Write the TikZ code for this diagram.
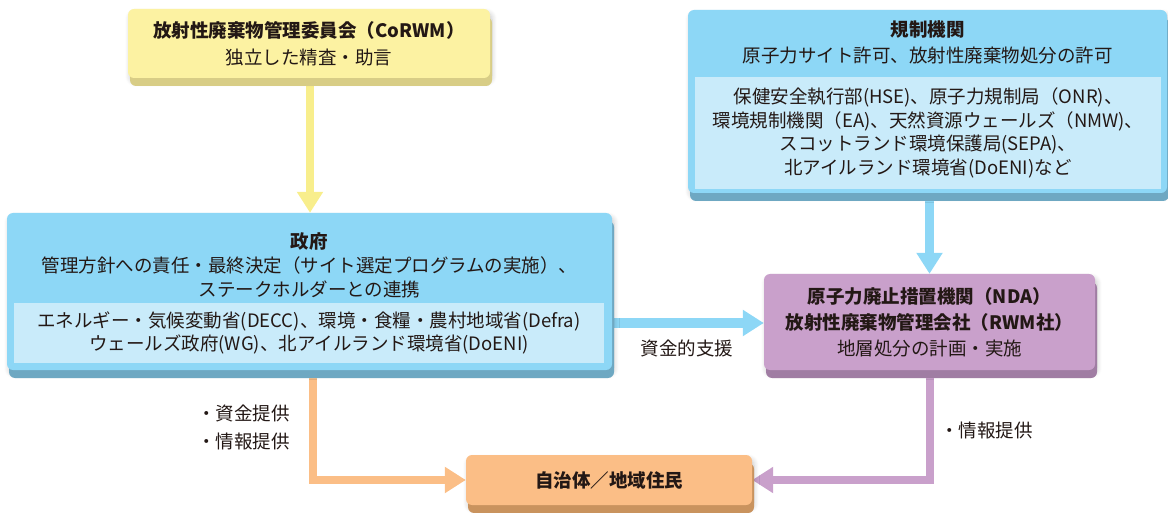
\documentclass[tikz,border=0pt]{standalone}
\usepackage{fontspec}
\setmainfont{Noto Sans CJK JP}
\usetikzlibrary{arrows.meta,shadows,shadows.blur,calc}
\definecolor{txt}{HTML}{231815}
\definecolor{yelfill}{HTML}{FCF2A2}
\definecolor{yelstrip}{HTML}{D8CD86}
\definecolor{yelarrow}{HTML}{F8EE8C}
\definecolor{bluefill}{HTML}{8DD7F6}
\definecolor{bluestrip}{HTML}{6EA8C2}
\definecolor{bluepanel}{HTML}{C9EBFA}
\definecolor{purfill}{HTML}{C9A0CB}
\definecolor{purstrip}{HTML}{A07DA3}
\definecolor{orfill}{HTML}{FBBE86}
\definecolor{orstrip}{HTML}{C9935E}
\newcommand{\dfont}{\fontsize{18.5}{25}\selectfont}
\pgfdeclarelayer{bg}
\pgfsetlayers{bg,main}
\begin{document}
\begin{tikzpicture}[x=1pt,y=-1pt,
  boxbase/.style={rounded corners=6pt, inner sep=0pt, text=txt, align=center, font=\dfont,
    blur shadow={shadow blur steps=6, shadow xshift=2pt, shadow yshift=-4pt, shadow opacity=22, shadow blur radius=5pt}},
  stripped/.style={general shadow={fill=#1, shadow yshift=-8pt}},
  panelbox/.style={fill=bluepanel, inner sep=0pt, text=txt, align=center, font=\dfont},
  lbl/.style={inner sep=0pt, text=txt, font=\dfont},
  fatarrow/.style={draw=#1, line width=9pt, -{Triangle[width=25pt,length=21pt]}},
]
\useasboundingbox (0,0) rectangle (1168,513);

% boxes
\node[boxbase, stripped=yelstrip, fill=yelfill, minimum width=362pt, minimum height=69pt,
  font=\fontsize{18.5}{27}\selectfont] (corwm) at (309,43.5)
  {\bfseries 放射性廃棄物管理委員会（CoRWM）\\ 独立した精査・助言};

\node[boxbase, stripped=bluestrip, fill=bluefill, minimum width=479pt, minimum height=183pt] (regs) at (927.5,101.5) {};
\node[lbl, align=center, font=\fontsize{18.5}{26}\selectfont] (regstitle) at (927.5,42)
  {\bfseries 規制機関\\ 原子力サイト許可、放射性廃棄物処分の許可};
\node[panelbox, minimum width=466pt, minimum height=112pt, font=\fontsize{18.5}{23.7}\selectfont] (regspanel) at (928,133)
  {\raisebox{0pt}{}保健安全執行部(HSE)、原子力規制局（ONR)、\\
   環境規制機関（EA)、天然資源ウェールズ（NMW)、\\
   スコットランド環境保護局(SEPA)、\\
   北アイルランド環境省(DoENI)など};

\node[boxbase, stripped=bluestrip, fill=bluefill, minimum width=605pt, minimum height=157pt] (gov) at (309.5,291.5) {};
\node[lbl, align=center, font=\fontsize{18.5}{24}\selectfont] (govtitle) at (309.5,265)
  {\bfseries 政府\\ 管理方針への責任・最終決定（サイト選定プログラムの実施）、\\ ステークホルダーとの連携};
\node[panelbox, minimum width=590pt, minimum height=60pt, font=\fontsize{18.5}{23}\selectfont] (govpanel) at (309,333)
  {エネルギー・気候変動省(DECC)、環境・食糧・農村地域省(Defra)\\
   ウェールズ政府(WG)、北アイルランド環境省(DoENI)};

\node[boxbase, stripped=purstrip, fill=purfill, minimum width=331pt, minimum height=96pt,
  font=\fontsize{18.5}{26}\selectfont] (nda) at (929.5,322)
  {\bfseries 原子力廃止措置機関（NDA）\\ \bfseries 放射性廃棄物管理会社（RWM社）\\ 地層処分の計画・実施};

\node[boxbase, stripped=orstrip, fill=orfill, minimum width=286pt, minimum height=50pt] (local) at (609,480)
  {\bfseries 自治体／地域住民};

% labels
\node[lbl] (lfund) at (687,348) {資金的支援};
\node[lbl, anchor=west, align=left, font=\fontsize{18.5}{28}\selectfont] (lgov) at (197,427) {・資金提供\\・情報提供};
\node[lbl, anchor=west] (lnda) at (940,430) {・情報提供};

% connectors
\begin{pgfonlayer}{bg}
\draw[fatarrow=yelarrow, line width=8pt] (corwm.south -| 310,0) -- (gov.north -| 310,0);
\draw[fatarrow=bluefill] (nda.north |- regs.south) -- (nda.north);
\draw[fatarrow=bluefill, line width=10pt] (gov.east |- 0,323) -- (nda.west |- 0,323);
\draw[fatarrow=orfill, line width=8pt] (gov.south -| 313,0) |- (local.west);
\draw[fatarrow=purfill, line width=8pt] (nda.south) |- (local.east);
\end{pgfonlayer}
\end{tikzpicture}
\end{document}
